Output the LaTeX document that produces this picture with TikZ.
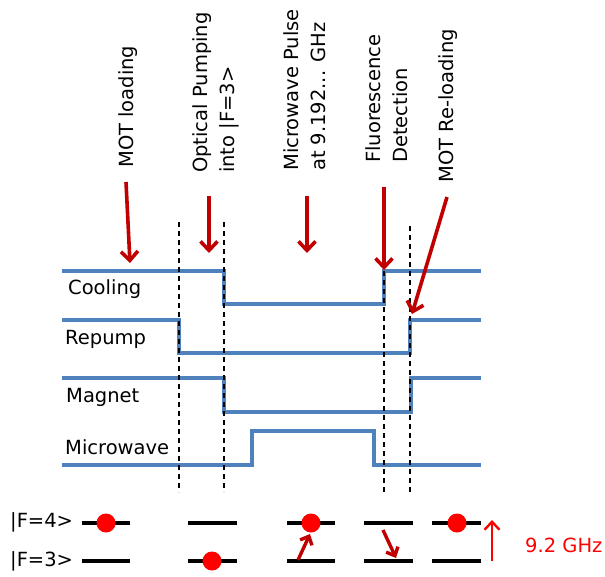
\documentclass[tikz,border=0pt]{standalone}
\usepackage{fontspec}
\setmainfont{DejaVu Sans}
\usetikzlibrary{arrows.meta}

\definecolor{sigblue}{RGB}{79,129,189}
\definecolor{darkred}{RGB}{192,0,0}

\begin{document}
\begin{tikzpicture}[
    x=1pt, y=-1pt,
    signal/.style={line width=3.6pt, sigblue},
    marker/.style={dash pattern=on 5pt off 4pt, line width=1.2pt, black},
    level/.style={line width=3.2pt, black},
    atom/.style={circle, fill=red, inner sep=0pt, minimum size=19pt},
    phase/.style={rotate=90, anchor=west, align=left, inner sep=0pt, font=\fontsize{19.5}{27}\selectfont},
    siglabel/.style={anchor=west, inner sep=0pt, font=\fontsize{19.5}{23}\selectfont},
    event/.style={-{Straight Barb[length=9pt, width=17pt]}, line width=3.6pt, darkred},
    transition/.style={-{Straight Barb[length=7pt, width=13pt]}, line width=3.4pt, darkred},
]
\useasboundingbox (0,0) rectangle (605,576);

% Phase labels
\node[phase] (motload) at (128,168) {MOT loading};
\node[phase] (optpump) at (216,173) {Optical Pumping\\into |F=3>};
\node[phase] (mwpulse) at (305,171) {Microwave Pulse\\at 9.192... GHz};
\node[phase] (fluor) at (387,163) {Fluorescence\\Detection};
\node[phase] (motreload) at (448,183) {MOT Re-loading};

% Signal labels
\node[siglabel] (cool) at (68,289) {Cooling};
\node[siglabel] (rep) at (65,339) {Repump};
\node[siglabel] (mag) at (66,397) {Magnet};
\node[siglabel] (mw) at (65,447) {Microwave};

% Timing signals
\draw[signal] (62,271) -- (224,271) -- (224,304) -- (384,304) -- (384,271) -- (481,271);
\draw[signal] (62,320) -- (179,320) -- (179,353) -- (410,353) -- (410,320) -- (481,320);
\draw[signal] (62,378) -- (224,378) -- (224,412) -- (411,412) -- (411,378) -- (481,378);
\draw[signal] (62,465) -- (252,465) -- (252,431) -- (374,431) -- (374,465) -- (481,465);

% Phase boundaries
\draw[marker] (179,222) -- (179,492);
\draw[marker] (224,222) -- (224,492);
\draw[marker] (384,271) -- (384,492);
\draw[marker] (410,226) -- (410,492);

% Event arrows
\coordinate (motload-t) at (126,182);
\coordinate (motload-h) at (130,263);
\coordinate (optpump-t) at (209,196);
\coordinate (optpump-h) at (209,253);
\coordinate (mwpulse-t) at (307,196);
\coordinate (mwpulse-h) at (307,253);
\coordinate (fluor-t) at (384,187);
\coordinate (fluor-h) at (384,270);
\coordinate (motreload-t) at (447,197);
\coordinate (motreload-h) at (412,314);

\draw[event] (motload-t) -- (motload-h);
\draw[event] (optpump-t) -- (optpump-h);
\draw[event] (mwpulse-t) -- (mwpulse-h);
\draw[event] (fluor-t) -- (fluor-h);
\draw[event] (motreload-t) -- (motreload-h);

% Hyperfine levels
\node[siglabel] (f4) at (10,522) {|F=4>};
\node[siglabel] (f3) at (10,561) {|F=3>};

\foreach \xa/\xb in {82/130, 188/237, 287/335, 364/413, 432/481} {
    \draw[level] (\xa,523) -- (\xb,523);
    \draw[level] (\xa,561) -- (\xb,561);
}

\node[atom] (atom1) at (106,523) {};
\node[atom] (atom2) at (212,561) {};
\node[atom] (atom3) at (311,523) {};
\node[atom] (atom5) at (457,523) {};

% Transitions
\coordinate (up-t) at (298,560);
\coordinate (up-h) at (310,534);
\coordinate (down-t) at (383,530);
\coordinate (down-h) at (396,558);
\draw[transition] (up-t) -- (up-h);
\draw[transition] (down-t) -- (down-h);

% Splitting
\coordinate (split-b) at (492,561);
\coordinate (split-a) at (492,520);
\draw[-{Straight Barb[length=8pt, width=15pt]}, line width=2.4pt, red] (split-b) -- (split-a);
\node[siglabel, text=red] (ghz) at (525,545) {9.2 GHz};

\end{tikzpicture}
\end{document}
